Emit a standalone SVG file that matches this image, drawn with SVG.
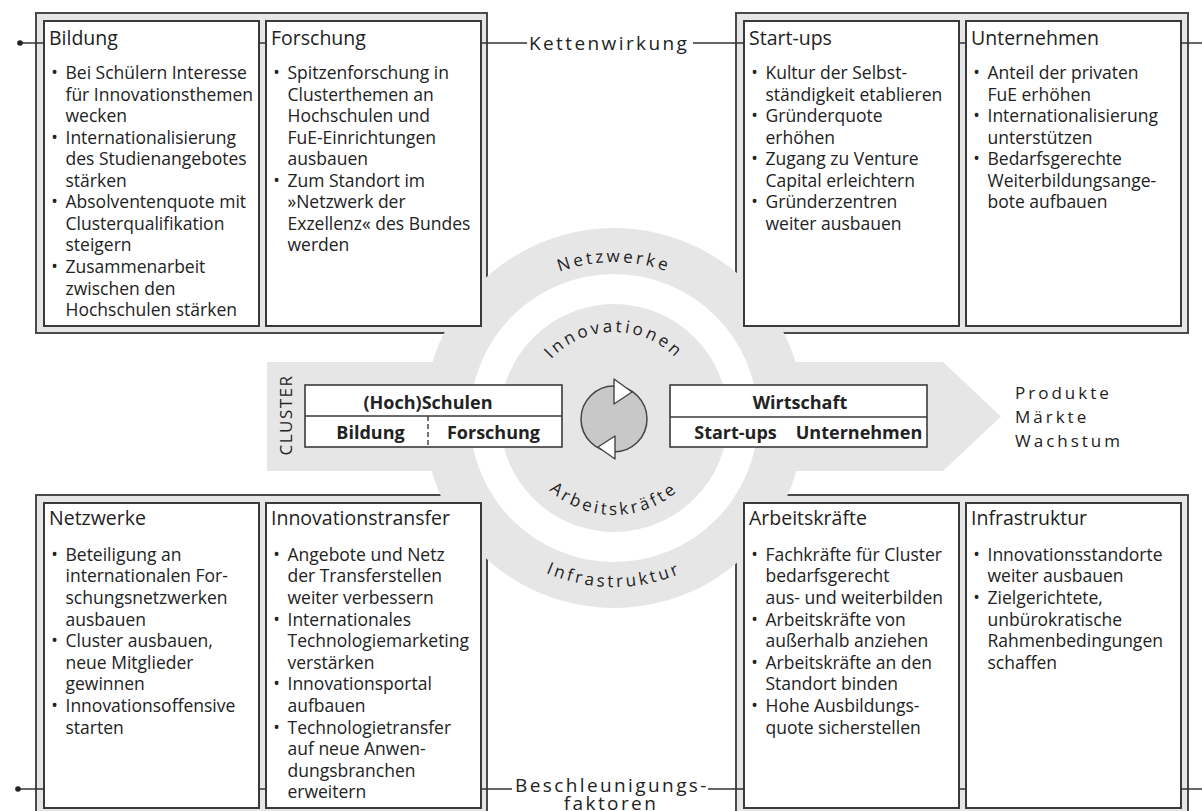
<svg xmlns="http://www.w3.org/2000/svg" width="1202" height="811" viewBox="0 0 1202 811">
<defs>
<style>
.frame{fill:#e6e6e6;stroke:#4a4a4a;stroke-width:2}
.box{fill:#fff;stroke:#3a3a3a;stroke-width:2}
.cbox{fill:#fff;stroke:#3a3a3a;stroke-width:1.6}
.gray{fill:#e6e6e6}
text{font-family:"Open Sans","Noto Sans",sans-serif;fill:#222}
.h{font-size:19.5px}
.t{font-size:17.5px}
.bu{font-size:17.5px;text-anchor:middle}
.bold{font-size:18px;font-weight:700;text-anchor:middle}
.arc{font-size:17px;letter-spacing:3px}
.lbl{font-size:19px;letter-spacing:2.4px}
.out{font-size:17px;letter-spacing:3px}
.conn{stroke:#333;stroke-width:1.6;fill:none}
</style>
<path id="arcNetz" d="M458 418 A156 156 0 0 1 770 418"/>
<path id="arcInno" d="M528 418 A86 86 0 0 1 700 418"/>
<path id="arcArb" d="M517 418 A97 97 0 0 0 711 418"/>
<path id="arcInfra" d="M445 418 A169 169 0 0 0 783 418"/>
</defs>

<g id="frame-top-left"><rect class="frame" x="36" y="13" width="451" height="320"/></g>
<g id="frame-top-right"><rect class="frame" x="736" y="13" width="452" height="320"/></g>
<g id="frame-bottom-left"><rect class="frame" x="36" y="495" width="451" height="325"/></g>
<g id="frame-bottom-right"><rect class="frame" x="736" y="495" width="452" height="325"/></g>

<g id="center-background">
<polygon class="gray" points="267,362 943,362 1001,416.5 943,471 267,471"/>
<circle class="gray" cx="614" cy="418" r="190"/>
<circle fill="#fff" cx="614" cy="418" r="144"/>
<circle class="gray" cx="614" cy="418" r="114"/>
<text class="arc"><textPath href="#arcNetz" startOffset="50%" text-anchor="middle">Netzwerke</textPath></text>
<text class="arc"><textPath href="#arcInno" startOffset="50%" text-anchor="middle">Innovationen</textPath></text>
<text class="arc"><textPath href="#arcArb" startOffset="50%" text-anchor="middle">Arbeitskräfte</textPath></text>
<text class="arc"><textPath href="#arcInfra" startOffset="50%" text-anchor="middle">Infrastruktur</textPath></text>
</g>

<g id="cycle-icon">
<circle cx="614" cy="419" r="33" fill="#c8c8c8" stroke="#444" stroke-width="1.5"/>
<polygon points="614,379 614,404 632,392" fill="#fff" stroke="#444" stroke-width="1.4" stroke-linejoin="round"/>
<polygon points="615,436 615,459 598,447" fill="#fff" stroke="#444" stroke-width="1.4" stroke-linejoin="round"/>
</g>

<g id="cluster-label">
<text transform="translate(292,415) rotate(-90)" style="font-size:17px;letter-spacing:1.5px;text-anchor:middle">CLUSTER</text>
</g>

<g id="node-hochschulen">
<rect class="cbox" x="305" y="385" width="257" height="62"/>
<line x1="305" y1="416" x2="562" y2="416" stroke="#3a3a3a" stroke-width="1.6"/>
<line x1="428" y1="416" x2="428" y2="447" stroke="#3a3a3a" stroke-width="1.4" stroke-dasharray="5,3"/>
<text class="bold" x="428" y="409">(Hoch)Schulen</text>
<text class="bold" x="370.5" y="438.5">Bildung</text>
<text class="bold" x="493.5" y="438.5">Forschung</text>
</g>

<g id="node-wirtschaft">
<rect class="cbox" x="670" y="385" width="257" height="62"/>
<line x1="670" y1="417" x2="927" y2="417" stroke="#3a3a3a" stroke-width="1.6"/>
<text class="bold" x="800" y="408.5">Wirtschaft</text>
<text class="bold" x="735.5" y="438.5">Start-ups</text>
<text class="bold" x="859" y="438.5">Unternehmen</text>
</g>

<g id="node-outcomes">
<text class="out" x="1015" y="399.3">Produkte</text>
<text class="out" x="1015" y="423.3">Märkte</text>
<text class="out" x="1015" y="447.3">Wachstum</text>
</g>

<g id="node-bildung">
<rect class="box" x="44" y="21" width="215" height="305"/>
<text class="h" x="49" y="45">Bildung</text>
<text class="bu"><tspan x="54.5" y="79">•</tspan><tspan x="54.5" y="143.6">•</tspan><tspan x="54.5" y="208.3">•</tspan><tspan x="54.5" y="272.9">•</tspan></text>
<text class="t">
<tspan x="65.5" y="79">Bei Schülern Interesse</tspan>
<tspan x="65.5" y="100.5">für Innovationsthemen</tspan>
<tspan x="65.5" y="122.1">wecken</tspan>
<tspan x="65.5" y="143.6">Internationalisierung</tspan>
<tspan x="65.5" y="165.2">des Studienangebotes</tspan>
<tspan x="65.5" y="186.7">stärken</tspan>
<tspan x="65.5" y="208.3">Absolventenquote mit</tspan>
<tspan x="65.5" y="229.8">Clusterqualifikation</tspan>
<tspan x="65.5" y="251.4">steigern</tspan>
<tspan x="65.5" y="272.9">Zusammenarbeit</tspan>
<tspan x="65.5" y="294.5">zwischen den</tspan>
<tspan x="65.5" y="316">Hochschulen stärken</tspan>
</text>
</g>

<g id="node-forschung">
<rect class="box" x="266" y="21" width="215" height="305"/>
<text class="h" x="271" y="45">Forschung</text>
<text class="bu"><tspan x="276.5" y="79">•</tspan><tspan x="276.5" y="186.7">•</tspan></text>
<text class="t">
<tspan x="287.5" y="79">Spitzenforschung in</tspan>
<tspan x="287.5" y="100.5">Clusterthemen an</tspan>
<tspan x="287.5" y="122.1">Hochschulen und</tspan>
<tspan x="287.5" y="143.6">FuE-Einrichtungen</tspan>
<tspan x="287.5" y="165.2">ausbauen</tspan>
<tspan x="287.5" y="186.7">Zum Standort im</tspan>
<tspan x="287.5" y="208.3">»Netzwerk der</tspan>
<tspan x="287.5" y="229.8">Exzellenz« des Bundes</tspan>
<tspan x="287.5" y="251.4">werden</tspan>
</text>
</g>

<g id="node-startups">
<rect class="box" x="744" y="21" width="215" height="305"/>
<text class="h" x="749" y="45">Start-ups</text>
<text class="bu"><tspan x="754.5" y="79">•</tspan><tspan x="754.5" y="122.1">•</tspan><tspan x="754.5" y="165.2">•</tspan><tspan x="754.5" y="208.3">•</tspan></text>
<text class="t">
<tspan x="765.5" y="79">Kultur der Selbst-</tspan>
<tspan x="765.5" y="100.5">ständigkeit etablieren</tspan>
<tspan x="765.5" y="122.1">Gründerquote</tspan>
<tspan x="765.5" y="143.6">erhöhen</tspan>
<tspan x="765.5" y="165.2">Zugang zu Venture</tspan>
<tspan x="765.5" y="186.7">Capital erleichtern</tspan>
<tspan x="765.5" y="208.3">Gründerzentren</tspan>
<tspan x="765.5" y="229.8">weiter ausbauen</tspan>
</text>
</g>

<g id="node-unternehmen">
<rect class="box" x="966" y="21" width="215" height="305"/>
<text class="h" x="971" y="45">Unternehmen</text>
<text class="bu"><tspan x="976.5" y="79">•</tspan><tspan x="976.5" y="122.1">•</tspan><tspan x="976.5" y="165.2">•</tspan></text>
<text class="t">
<tspan x="987.5" y="79">Anteil der privaten</tspan>
<tspan x="987.5" y="100.5">FuE erhöhen</tspan>
<tspan x="987.5" y="122.1">Internationalisierung</tspan>
<tspan x="987.5" y="143.6">unterstützen</tspan>
<tspan x="987.5" y="165.2">Bedarfsgerechte</tspan>
<tspan x="987.5" y="186.7">Weiterbildungsange-</tspan>
<tspan x="987.5" y="208.3">bote aufbauen</tspan>
</text>
</g>

<g id="node-netzwerke">
<rect class="box" x="44" y="503" width="215" height="305"/>
<text class="h" x="49" y="525">Netzwerke</text>
<text class="bu"><tspan x="54.5" y="560.7">•</tspan><tspan x="54.5" y="647.1">•</tspan><tspan x="54.5" y="711.9">•</tspan></text>
<text class="t">
<tspan x="65.5" y="560.7">Beteiligung an</tspan>
<tspan x="65.5" y="582.3">internationalen For-</tspan>
<tspan x="65.5" y="603.9">schungsnetzwerken</tspan>
<tspan x="65.5" y="625.5">ausbauen</tspan>
<tspan x="65.5" y="647.1">Cluster ausbauen,</tspan>
<tspan x="65.5" y="668.7">neue Mitglieder</tspan>
<tspan x="65.5" y="690.3">gewinnen</tspan>
<tspan x="65.5" y="711.9">Innovationsoffensive</tspan>
<tspan x="65.5" y="733.5">starten</tspan>
</text>
</g>

<g id="node-innovationstransfer">
<rect class="box" x="266" y="503" width="215" height="305"/>
<text class="h" x="271" y="525">Innovationstransfer</text>
<text class="bu"><tspan x="276.5" y="560.7">•</tspan><tspan x="276.5" y="625.5">•</tspan><tspan x="276.5" y="690.3">•</tspan><tspan x="276.5" y="733.5">•</tspan></text>
<text class="t">
<tspan x="287.5" y="560.7">Angebote und Netz</tspan>
<tspan x="287.5" y="582.3">der Transferstellen</tspan>
<tspan x="287.5" y="603.9">weiter verbessern</tspan>
<tspan x="287.5" y="625.5">Internationales</tspan>
<tspan x="287.5" y="647.1">Technologiemarketing</tspan>
<tspan x="287.5" y="668.7">verstärken</tspan>
<tspan x="287.5" y="690.3">Innovationsportal</tspan>
<tspan x="287.5" y="711.9">aufbauen</tspan>
<tspan x="287.5" y="733.5">Technologietransfer</tspan>
<tspan x="287.5" y="755.1">auf neue Anwen-</tspan>
<tspan x="287.5" y="776.7">dungsbranchen</tspan>
<tspan x="287.5" y="798.3">erweitern</tspan>
</text>
</g>

<g id="node-arbeitskraefte">
<rect class="box" x="744" y="503" width="215" height="305"/>
<text class="h" x="749" y="525">Arbeitskräfte</text>
<text class="bu"><tspan x="754.5" y="560.7">•</tspan><tspan x="754.5" y="625.5">•</tspan><tspan x="754.5" y="668.7">•</tspan><tspan x="754.5" y="711.9">•</tspan></text>
<text class="t">
<tspan x="765.5" y="560.7">Fachkräfte für Cluster</tspan>
<tspan x="765.5" y="582.3">bedarfsgerecht</tspan>
<tspan x="765.5" y="603.9">aus- und weiterbilden</tspan>
<tspan x="765.5" y="625.5">Arbeitskräfte von</tspan>
<tspan x="765.5" y="647.1">außerhalb anziehen</tspan>
<tspan x="765.5" y="668.7">Arbeitskräfte an den</tspan>
<tspan x="765.5" y="690.3">Standort binden</tspan>
<tspan x="765.5" y="711.9">Hohe Ausbildungs-</tspan>
<tspan x="765.5" y="733.5">quote sicherstellen</tspan>
</text>
</g>

<g id="node-infrastruktur">
<rect class="box" x="966" y="503" width="215" height="305"/>
<text class="h" x="971" y="525">Infrastruktur</text>
<text class="bu"><tspan x="976.5" y="560.7">•</tspan><tspan x="976.5" y="603.9">•</tspan></text>
<text class="t">
<tspan x="987.5" y="560.7">Innovationsstandorte</tspan>
<tspan x="987.5" y="582.3">weiter ausbauen</tspan>
<tspan x="987.5" y="603.9">Zielgerichtete,</tspan>
<tspan x="987.5" y="625.5">unbürokratische</tspan>
<tspan x="987.5" y="647.1">Rahmenbedingungen</tspan>
<tspan x="987.5" y="668.7">schaffen</tspan>
</text>
</g>

<g id="connectors">
<path class="conn" d="M20 43H44M259 43H266M481 43H527M693 43H744M959 43H966M1181 43H1202"/>
<path class="conn" d="M18 789H44M259 789H266M481 789H512M708 789H744M959 789H966M1181 789H1202"/>
<circle cx="20" cy="43" r="2.8" fill="#222"/>
<circle cx="18" cy="789" r="2.8" fill="#222"/>
<text class="lbl" x="529" y="50">Kettenwirkung</text>
<text class="lbl" x="515" y="792">Beschleunigungs-</text>
<text class="lbl" x="611" y="810" text-anchor="middle">faktoren</text>
</g>
</svg>
